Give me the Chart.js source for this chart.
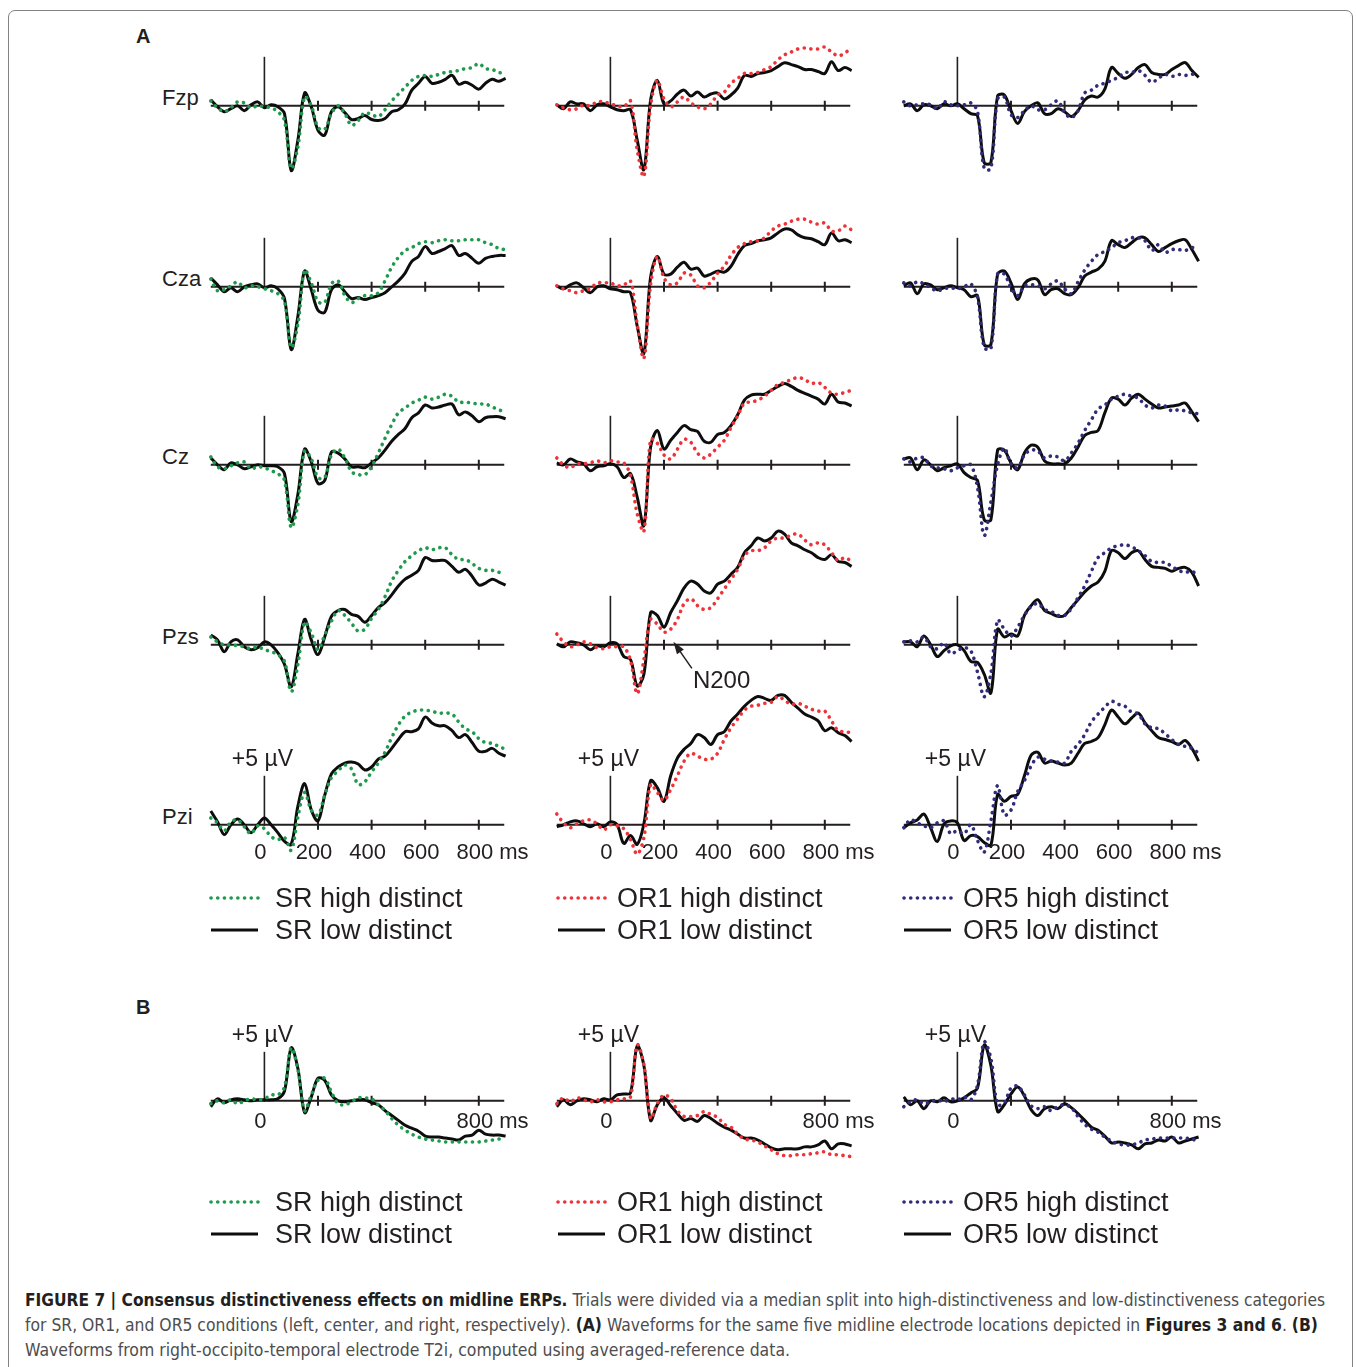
<!DOCTYPE html>
<html lang="en">
<head>
<meta charset="utf-8">
<title>Figure 7 - Consensus distinctiveness effects on midline ERPs</title>
<script src="https://cdn.jsdelivr.net/npm/chart.js@4.4.1/dist/chart.umd.min.js"></script>
<style>
  html, body { margin: 0; padding: 0; background: #fff; }
  body { position: relative; width: 1356px; height: 1367px; overflow: hidden;
         font-family: "Liberation Sans", Arial, Helvetica, sans-serif; color: #231f20; }
  .frame { position: absolute; left: 8px; top: 10px; width: 1343px; height: 1400px;
           border: 1px solid #808285; border-radius: 7px; }
  canvas.erp { position: absolute; }
  .panel-letter { position: absolute; left: 136px; font-weight: bold; font-size: 20px; line-height: 24px; }
  .electrode { position: absolute; left: 162px; font-size: 22px; line-height: 24px; }
  .legend-text { position: absolute; font-size: 27px; line-height: 30px; white-space: nowrap; }
  .legend-line { position: absolute; overflow: visible; }
  .caption { position: absolute; left: 25px; top: 1287px; font-size: 18px; line-height: 25px;
             font-family: "Liberation Sans Narrow", "DejaVu Sans Condensed", "Liberation Sans", sans-serif;
             color: #4d4d4f; white-space: nowrap; }
  .caption div { transform-origin: 0 50%; width: max-content; }
  .caption b { color: #231f20; }
</style>
</head>
<body>
<div class="frame"></div>
<div class="panel-letter" style="top:24px">A</div>
<div class="panel-letter" style="top:995px">B</div>
<div class="caption">
  <div><b>FIGURE 7 | Consensus distinctiveness effects on midline ERPs.</b> Trials were divided via a median split into high-distinctiveness and low-distinctiveness categories</div>
  <div>for SR, OR1, and OR5 conditions (left, center, and right, respectively). <b>(A)</b> Waveforms for the same five midline electrode locations depicted in <b>Figures 3 and 6</b>. <b>(B)</b></div>
  <div>Waveforms from right-occipito-temporal electrode T2i, computed using averaged-reference data.</div>
</div>
<script>
// Sample times (ms) shared by every waveform
const TIMES_MS = [-200,-175,-150,-125,-100,-75,-50,-25,0,25,50,75,100,125,150,175,200,225,250,275,300,
  325,350,375,400,425,450,475,500,525,550,575,600,625,650,675,700,725,750,775,800,825,850,875,900];

const CONDITIONS = ['SR', 'OR1', 'OR5'];
const ELECTRODES = ['Fzp', 'Cza', 'Cz', 'Pzs', 'Pzi'];
const TICK_MS = [200, 400, 600, 800];
const TICK_LABEL_MS_A = [0, 200, 400, 600, 800];
const TICK_LABELS_A = ['0', '200', '400', '600', '800'];
const TICK_LABEL_MS_B = [0, 800];
const TICK_LABELS_B = ['0', '800'];
const TIME_UNIT = 'ms';
const SCALE_BAR_UV = 5;
const SCALE_BAR_LABEL = '+5 µV';

// Amplitudes in µV, positive up (A: midline electrodes)
const srFzpHigh = [0.5,-0.2,-0.6,-0.2,0.4,0.3,-0.2,0.0,-0.1,-0.2,-0.6,-1.5,-6.4,-4.2,0.9,0.0,-2.2,-2.4,-0.8,0.0,-0.8,-2.0,-1.5,-0.7,-0.9,-1.1,-0.4,0.5,1.2,1.9,2.6,3.0,3.1,3.0,3.2,3.4,3.5,3.6,3.8,3.9,4.3,3.8,3.7,3.4,3.3];
const srFzpLow = [0.6,-0.1,-0.6,-0.3,0.0,-0.5,0.1,0.4,-0.2,0.1,-0.1,-0.8,-6.6,-3.5,1.3,-0.1,-2.5,-3.0,-0.6,-0.1,-0.7,-1.4,-1.3,-1.0,-1.4,-1.5,-1.3,-0.6,-0.4,0.2,1.6,2.3,3.0,2.3,2.4,2.7,3.1,2.2,2.4,2.1,1.7,2.3,2.7,2.5,2.8];
const srCzaHigh = [0.8,-0.4,-0.3,0.1,0.5,-0.1,0.1,0.0,-0.2,-0.4,-0.7,-1.5,-6.2,-3.8,1.7,0.4,-1.5,-1.6,0.3,0.6,-0.9,-1.6,-1.2,-0.9,-0.9,-0.6,0.6,2.0,3.0,3.7,4.0,4.4,4.6,4.5,4.7,4.8,4.7,4.7,4.8,4.8,4.8,4.5,4.3,3.9,3.8];
const srCzaLow = [0.9,0.2,-0.5,-0.1,-0.5,0.0,0.2,0.3,-0.1,0.1,-0.2,-1.2,-6.4,-3.0,1.6,-0.3,-2.4,-2.6,-0.3,0.2,-0.5,-1.2,-1.1,-1.3,-1.1,-0.9,-0.6,0.0,0.6,1.4,2.6,3.1,4.1,3.4,3.6,3.9,4.2,3.2,3.4,2.9,2.4,2.9,3.1,3.2,3.2];
const srCzHigh = [0.8,-0.2,-0.4,-0.1,0.2,0.3,-0.4,-0.2,-0.3,-0.6,-0.9,-1.6,-6.4,-4.0,1.4,0.6,-1.3,-1.3,1.0,1.6,0.7,-0.7,-1.0,-1.0,-0.2,1.2,2.7,4.1,5.3,5.8,6.3,6.6,6.9,6.7,6.9,7.2,7.0,6.4,6.4,6.3,6.2,6.2,5.9,5.6,5.4];
const srCzLow = [0.7,0.0,-0.5,0.2,0.0,-0.4,-0.2,0.0,-0.1,-0.1,-0.2,-0.9,-5.8,-3.0,1.6,0.3,-1.9,-1.6,1.3,1.2,0.6,-0.2,-0.2,-0.3,0.2,0.7,1.5,2.4,3.1,3.7,4.8,5.3,6.1,5.8,5.9,6.1,6.2,5.1,5.4,5.0,4.4,4.8,4.9,4.9,4.7];
const srPzsHigh = [0.8,0.3,0.0,0.0,-0.1,-0.2,-0.4,-0.2,-0.5,-0.7,-1.0,-1.7,-4.8,-2.0,2.3,1.2,-0.5,1.0,2.4,3.5,3.0,2.2,1.4,1.6,2.7,3.6,4.9,6.5,7.6,8.5,9.1,9.6,9.9,9.7,9.9,9.9,9.2,8.7,8.7,8.3,7.8,7.6,7.6,7.4,7.3];
const srPzsLow = [1.0,0.5,-0.7,0.3,0.5,-0.2,-0.5,-0.3,0.3,0.0,-0.8,-2.0,-4.3,-0.9,2.6,0.5,-1.0,0.8,2.9,3.5,3.6,3.1,2.9,2.3,3.0,3.8,4.3,5.1,6.0,6.7,7.1,7.6,8.9,8.6,8.6,8.6,8.0,7.4,7.7,7.0,6.1,6.3,6.7,6.4,6.1];
const srPziHigh = [0.7,0.2,-0.6,0.3,0.5,-0.2,-0.9,-0.1,-0.4,-1.2,-1.5,-1.3,-2.6,0.8,3.3,1.5,1.0,3.0,4.8,5.5,6.1,5.7,4.1,4.4,5.4,6.3,7.4,8.9,10.2,11.1,11.5,11.7,11.7,11.6,11.4,11.4,11.3,10.5,9.8,9.5,8.8,8.4,8.3,8.0,7.7];
const srPziLow = [1.4,0.3,-1.0,0.0,0.6,0.0,-0.8,0.0,0.7,0.0,-0.8,-1.7,-2.0,1.9,4.2,1.5,0.4,3.0,5.2,5.9,6.3,6.4,6.2,5.6,5.9,6.7,7.0,7.8,8.7,9.5,9.5,9.8,11.0,10.4,10.1,10.1,9.6,8.9,9.2,8.4,7.5,7.5,7.8,7.3,7.0];

const or1FzpHigh = [0.1,-0.2,-0.4,-0.3,0.1,0.0,0.4,0.4,0.2,0.0,-0.1,0.5,-4.5,-7.2,0.0,2.6,0.7,-0.1,0.4,0.9,0.3,-0.1,-0.3,0.2,1.1,1.4,2.3,2.8,3.3,3.3,3.4,3.7,4.0,4.7,5.2,5.5,5.8,5.9,5.8,5.8,6.0,5.5,5.1,5.4,5.9];
const or1FzpLow = [0.1,-0.3,0.4,0.2,0.2,-0.5,0.1,0.2,-0.1,-0.4,-0.5,-0.4,-3.5,-6.5,0.6,2.6,0.2,0.5,1.2,1.6,1.0,1.4,0.9,1.2,1.3,0.7,1.1,1.8,3.1,3.0,3.3,3.4,3.6,4.0,4.4,4.2,4.0,3.7,3.7,3.5,3.3,4.5,3.6,3.9,3.6];
const or1CzaHigh = [0.1,-0.2,-0.4,-0.6,-0.4,-0.2,0.4,0.4,0.4,0.1,0.2,0.6,-3.8,-7.3,0.2,3.1,0.9,0.2,0.4,1.4,1.2,0.1,-0.1,0.5,1.4,2.1,3.2,4.0,4.4,4.6,4.7,5.0,5.7,6.2,6.4,6.7,6.9,6.9,6.6,6.4,6.5,5.7,5.7,6.2,5.8];
const or1CzaLow = [0.1,-0.2,0.2,0.4,-0.1,-0.6,0.0,0.1,-0.2,-0.3,-0.5,-0.6,-4.0,-6.8,1.0,3.1,1.3,1.3,2.0,2.5,1.8,1.9,1.1,1.3,1.6,1.5,2.1,3.3,4.2,4.4,4.7,4.8,5.0,5.5,5.9,5.8,5.3,5.0,4.9,4.6,4.3,5.5,4.7,4.8,4.5];
const or1CzHigh = [0.7,0.0,-0.3,0.1,0.1,0.2,0.4,0.2,0.4,0.3,0.2,-1.1,-5.0,-6.8,2.6,2.2,1.0,0.6,1.6,2.6,2.3,1.2,0.7,1.1,1.8,2.5,3.8,5.0,6.3,6.4,6.6,7.0,7.6,8.2,8.4,8.7,8.9,8.7,8.3,8.4,7.9,7.3,7.2,7.4,7.6];
const or1CzLow = [0.2,0.0,0.6,0.3,0.1,-0.6,-0.2,-0.1,0.1,-0.2,-1.3,-0.9,-3.3,-6.2,1.8,3.5,1.6,2.5,3.3,4.0,3.6,3.4,2.4,2.3,3.1,3.3,4.0,5.1,6.6,7.1,7.2,7.2,7.6,8.0,8.3,8.0,7.6,7.3,7.0,6.7,6.2,7.2,6.4,6.3,6.0];
const or1PzsHigh = [1.1,0.3,-0.2,0.0,0.3,0.1,-0.3,-0.4,-0.2,-0.2,-0.2,-1.6,-5.0,-1.5,2.6,2.1,1.3,1.6,2.6,4.2,4.7,4.0,3.6,3.8,4.7,5.7,6.7,7.7,9.1,9.6,9.6,9.9,10.6,10.9,10.9,11.2,11.3,10.7,10.2,10.4,10.2,9.4,8.6,8.9,8.5];
const or1PzsLow = [0.1,-0.2,0.3,0.2,0.0,-0.5,-0.1,-0.2,0.2,0.1,-1.2,-1.5,-4.2,-3.0,3.3,3.0,1.8,3.3,4.5,5.8,6.5,6.2,5.5,5.3,6.2,6.5,7.2,7.9,9.4,10.1,10.9,10.6,10.9,11.6,11.3,10.4,10.1,9.7,9.4,8.9,8.7,9.2,8.5,8.4,8.0];
const or1PziHigh = [1.1,0.2,-0.3,0.1,0.4,0.5,0.1,-0.5,0.0,-0.1,-0.4,-1.5,-3.0,-1.3,4.1,3.3,2.5,3.6,5.0,6.5,7.3,7.0,6.7,6.7,7.3,8.7,9.9,10.8,11.7,12.1,12.2,12.4,12.5,13.1,12.7,12.3,12.4,12.1,11.8,11.6,11.6,10.6,9.6,9.5,9.4];
const or1PziLow = [-0.2,0.0,0.3,0.4,0.1,-0.2,0.1,-0.2,0.3,0.0,-1.9,-1.1,-2.0,0.1,4.5,3.8,2.4,5.0,6.8,7.7,8.3,9.2,8.9,8.2,9.2,9.5,10.6,11.3,12.1,12.7,13.1,12.9,12.7,13.2,13.2,12.5,11.9,11.3,11.0,10.6,9.6,9.9,9.4,9.1,8.5];

const or5FzpHigh = [0.4,0.0,0.1,0.2,0.1,-0.3,0.4,0.1,0.0,0.1,0.3,-0.6,-6.4,-6.4,0.7,0.9,-0.9,-1.2,-0.5,0.0,-0.4,-0.4,0.1,0.5,-0.7,-1.2,-0.5,1.3,1.6,2.1,2.3,2.6,2.9,3.4,3.4,3.6,3.1,2.4,2.8,3.2,3.0,3.2,3.1,3.2,3.5];
const or5FzpLow = [0.0,0.2,-0.5,0.1,0.0,-0.3,0.2,0.0,0.2,-0.3,-0.8,-1.0,-5.8,-5.8,1.0,1.1,-0.5,-1.8,-0.6,0.0,0.3,-0.8,-0.8,-0.3,-0.6,-1.1,-0.5,0.6,1.0,0.9,1.7,3.9,3.3,2.8,3.2,3.9,4.2,3.4,3.2,3.2,3.7,4.1,4.4,3.6,2.9];
const or5CzaHigh = [0.4,0.1,0.5,0.3,-0.1,-0.4,-0.2,-0.1,-0.2,0.0,0.3,-1.1,-6.2,-6.3,1.3,1.3,-0.1,-0.9,0.1,0.2,0.1,-0.2,0.3,0.6,-0.2,-0.7,0.5,1.7,2.6,3.3,3.6,4.0,4.5,4.7,5.0,5.0,4.7,3.7,4.3,3.5,3.8,3.8,3.7,4.0,4.0];
const or5CzaLow = [0.1,0.4,-0.7,0.3,0.2,-0.3,-0.1,0.1,-0.1,-0.3,-1.0,-0.9,-5.9,-5.9,1.3,1.6,0.4,-1.3,0.3,0.8,0.7,-0.8,-0.3,-0.2,-0.7,-0.8,-0.1,1.1,1.5,1.8,2.6,4.7,4.3,4.0,4.5,5.0,5.0,4.3,3.6,4.0,4.4,4.7,4.8,3.8,2.6];
const or5CzHigh = [0.6,0.3,0.7,0.7,-0.1,-0.3,-0.4,-0.6,-0.3,-0.1,0.0,-2.3,-7.2,-3.8,0.0,1.7,0.1,-0.3,1.0,1.5,1.4,0.7,0.9,0.8,0.4,1.2,2.2,3.5,4.6,5.7,6.1,6.7,7.0,7.2,7.0,6.8,6.1,5.8,6.1,6.0,5.5,5.6,5.5,5.3,5.2];
const or5CzLow = [0.6,0.7,-0.5,0.5,0.0,-0.6,-0.3,-0.1,0.1,-0.8,-1.3,-1.6,-5.6,-5.6,1.5,1.5,0.2,-0.5,1.2,2.0,1.8,0.4,0.1,0.1,0.1,0.7,1.8,3.0,3.3,3.5,5.3,6.8,6.7,6.1,6.8,7.2,6.7,6.2,5.8,5.9,6.0,6.1,6.3,5.4,4.4];
const or5PzsHigh = [0.3,0.4,0.3,0.8,-0.2,-0.4,0.2,-0.9,-0.6,-0.3,-0.6,-2.8,-5.3,-2.9,2.5,1.6,0.9,1.8,3.0,3.9,4.2,3.6,3.4,3.0,3.0,3.7,4.8,6.0,7.5,8.9,9.4,9.9,10.1,10.2,10.0,9.6,9.1,8.5,8.4,8.4,8.0,7.6,7.4,7.5,7.0];
const or5PzsLow = [0.3,0.3,-0.2,0.9,0.0,-1.2,-0.6,-0.1,0.0,-0.6,-1.7,-1.8,-3.0,-4.9,1.6,0.8,1.1,0.9,3.0,4.0,4.6,3.5,3.2,2.9,3.0,3.8,4.6,5.4,6.0,6.4,7.5,9.6,9.4,8.8,9.4,9.6,8.7,8.0,7.9,7.8,7.5,7.8,7.9,7.4,6.0];
const or5PziHigh = [-0.3,0.5,0.2,-0.1,-0.3,0.2,0.4,-0.9,-0.6,-0.9,0.0,-1.6,-2.8,0.4,4.0,1.0,1.5,3.4,4.5,6.0,6.9,6.7,6.5,6.4,6.3,7.5,8.2,9.2,10.5,11.3,12.0,12.6,12.3,12.1,11.5,11.3,10.3,9.9,9.8,9.3,8.7,8.2,8.0,7.8,7.3];
const or5PziLow = [-0.3,0.2,0.5,1.1,-0.3,-1.7,0.1,0.4,0.2,-1.6,-1.1,-1.2,-1.8,-2.1,3.1,2.4,2.9,3.1,5.0,7.1,7.4,6.3,6.5,6.3,6.1,6.3,7.3,8.3,8.5,8.9,10.2,11.7,11.0,10.3,10.9,11.4,10.4,9.6,8.9,8.7,8.5,8.2,8.6,7.8,6.5];

// B: right-occipito-temporal electrode T2i, averaged reference
const srT2iHigh = [-0.3,0.0,-0.2,0.1,-0.3,0.0,0.2,0.1,0.2,0.6,0.6,1.4,5.4,3.2,-1.0,0.6,2.1,2.3,0.9,-0.3,-0.4,-0.1,0.3,0.3,0.2,-0.4,-1.0,-1.8,-2.5,-3.0,-3.4,-3.7,-3.9,-4.0,-4.1,-4.2,-4.2,-4.2,-4.2,-4.2,-4.2,-4.1,-4.0,-3.9,-3.8];
const srT2iLow = [-0.6,0.2,-0.2,0.1,0.2,0.1,0.0,0.1,0.1,0.1,0.2,1.0,5.4,3.3,-1.2,0.4,2.3,2.1,0.6,0.0,-0.1,0.0,0.1,0.1,-0.2,-0.4,-1.0,-1.5,-2.0,-2.5,-2.8,-3.1,-3.6,-3.7,-3.7,-3.8,-3.9,-4.0,-3.6,-3.5,-3.0,-3.4,-3.5,-3.5,-3.6];
const or1T2iHigh = [-0.3,0.3,-0.1,0.3,0.1,-0.1,0.1,-0.1,-0.1,0.1,0.2,0.4,5.7,3.7,-1.8,-0.3,0.6,0.2,-1.0,-1.6,-1.6,-1.5,-1.1,-1.4,-1.7,-2.4,-2.7,-3.4,-3.9,-4.0,-4.2,-4.6,-5.0,-5.4,-5.6,-5.6,-5.5,-5.5,-5.4,-5.3,-5.2,-5.5,-5.5,-5.6,-5.7];
const or1T2iLow = [-0.6,0.1,-0.4,0.0,0.2,0.1,-0.1,0.2,0.1,0.6,0.7,0.8,5.6,3.6,-2.0,-0.4,0.3,-0.5,-1.3,-2.0,-1.8,-2.1,-1.5,-1.8,-2.3,-2.7,-3.0,-3.4,-3.8,-3.8,-4.0,-4.4,-4.8,-5.0,-4.9,-4.9,-4.9,-4.7,-4.7,-4.5,-4.1,-4.9,-4.4,-4.4,-4.6];
const or5T2iHigh = [-0.6,-0.1,0.1,-0.3,-0.1,0.1,-0.1,0.2,0.1,0.4,0.1,1.6,6.0,4.3,-0.4,-0.2,1.3,1.5,0.6,-0.5,-0.8,-0.6,-1.0,-0.6,-0.4,-0.7,-1.6,-2.4,-2.9,-3.2,-3.7,-4.1,-4.4,-4.5,-4.5,-4.3,-4.0,-3.9,-3.8,-3.8,-3.8,-3.8,-3.8,-3.9,-4.2];
const or5T2iLow = [0.4,-0.4,0.0,-0.8,0.0,-0.1,0.3,-0.1,0.0,0.3,0.8,1.3,5.7,3.6,-1.1,-0.4,0.7,1.4,0.5,-0.9,-1.5,-0.8,-0.6,-0.8,-0.3,-0.7,-1.3,-2.0,-2.7,-3.0,-3.6,-4.3,-4.2,-4.3,-4.5,-4.9,-4.4,-4.3,-4.0,-4.1,-3.7,-4.3,-4.1,-3.9,-3.7];

// N200 call-out on the OR1 / Pzs panel (ms, µV)
const N200_LABEL = 'N200';
const N200_TIP = [235, 0.3];
const N200_TAIL = [304, -2.4];
const N200_TEXT_AT = [415, -3.75];

// ---- layout / style (kept apart from the data) ----
const PX_PER_MS = 0.268;
const PX_PER_UV = 9.8;
const X_MIN_MS = -300;
const Y_MIN_UV = -9;
const CANVAS_W = 375;
const CANVAS_H = 230;
const X_MAX_MS = X_MIN_MS + CANVAS_W / PX_PER_MS;
const Y_MAX_UV = Y_MIN_UV + CANVAS_H / PX_PER_UV;
const AXIS_START_MS = -200;
const AXIS_END_MS = 895;
const COLUMN_ZERO_X = [264, 610.3, 957.3];
const ROW_BASELINE_Y = [105.5, 286.3, 464.5, 644.5, 824.5];
const B_BASELINE_Y = 1100.7;
const CONDITION_COLORS = ['#1f9a4d', '#ee3338', '#302c7a'];
const INK = '#231f20';
const TICK_FONT = '22px "Liberation Sans", Arial, sans-serif';
const LABEL_FONT = '23px "Liberation Sans", Arial, sans-serif';
const N200_FONT = '24px "Liberation Sans", Arial, sans-serif';
const LEGEND_LINE_X = [210, 557, 903];
const LEGEND_TEXT_X = [275, 617, 963];
const LEGEND_Y_A = 898;
const LEGEND_Y_B = 1202;
const LEGEND_ROW_GAP = 32;
const CAPTION_LINE_W = [1300, 1293, 765];

/**
 * Axis plugin: zero line with 200 ms ticks, +5 µV bar at onset, tick labels, call-out
 */
const erpAxes = {
    id: 'erpAxes',
    beforeDatasetsDraw(chart, args, opts) {
        const { ctx, scales: { x, y } } = chart;
        const y0 = y.getPixelForValue(0);
        const x0 = x.getPixelForValue(0);
        ctx.save();
        ctx.strokeStyle = INK;
        ctx.lineCap = 'butt';
        ctx.lineWidth = 2;
        ctx.beginPath();
        ctx.moveTo(x.getPixelForValue(AXIS_START_MS), y0);
        ctx.lineTo(x.getPixelForValue(AXIS_END_MS), y0);
        TICK_MS.forEach(t => {
            const px = x.getPixelForValue(t);
            ctx.moveTo(px, y0 - 5);
            ctx.lineTo(px, y0 + 5);
        });
        ctx.stroke();

        // scale bar at stimulus onset
        ctx.lineWidth = 1.6;
        ctx.beginPath();
        ctx.moveTo(x0, y0 + 1);
        ctx.lineTo(x0, y.getPixelForValue(SCALE_BAR_UV));
        ctx.stroke();
        ctx.restore();
    },
    afterDatasetsDraw(chart, args, opts) {
        const { ctx, scales: { x, y } } = chart;
        const y0 = y.getPixelForValue(0);
        ctx.save();
        ctx.fillStyle = INK;
        ctx.textBaseline = 'middle';

        if (opts.showScaleLabel) {
            ctx.font = LABEL_FONT;
            ctx.textAlign = 'center';
            ctx.fillText(SCALE_BAR_LABEL, x.getPixelForValue(0) - 2, y.getPixelForValue(SCALE_BAR_UV) - 16);
        }

        if (opts.tickMs) {
            ctx.font = TICK_FONT;
            opts.tickMs.forEach((t, i) => {
                const cx = x.getPixelForValue(t) - 4;
                const txt = opts.tickText[i];
                ctx.textAlign = 'center';
                ctx.fillText(txt, cx, y0 + opts.labelGap);
                if (i === opts.tickMs.length - 1) {
                    ctx.textAlign = 'left';
                    ctx.fillText(' ' + TIME_UNIT, cx + ctx.measureText(txt).width / 2, y0 + opts.labelGap);
                }
            });
        }

        if (opts.callout) {
            const c = opts.callout;
            const tx = x.getPixelForValue(c.tip[0]), ty = y.getPixelForValue(c.tip[1]);
            const sx = x.getPixelForValue(c.tail[0]), sy = y.getPixelForValue(c.tail[1]);
            const ang = Math.atan2(ty - sy, tx - sx);
            ctx.strokeStyle = INK;
            ctx.lineWidth = 1.5;
            ctx.beginPath();
            ctx.moveTo(sx, sy);
            ctx.lineTo(tx - 8 * Math.cos(ang), ty - 8 * Math.sin(ang));
            ctx.stroke();
            ctx.beginPath();
            ctx.moveTo(tx, ty);
            ctx.lineTo(tx - 13 * Math.cos(ang - 0.33), ty - 13 * Math.sin(ang - 0.33));
            ctx.lineTo(tx - 13 * Math.cos(ang + 0.33), ty - 13 * Math.sin(ang + 0.33));
            ctx.closePath();
            ctx.fill();
            ctx.font = N200_FONT;
            ctx.textAlign = 'center';
            ctx.fillText(c.text, x.getPixelForValue(c.textAt[0]), y.getPixelForValue(c.textAt[1]));
        }
        ctx.restore();
    }
};

function toPoints(values) {
    return TIMES_MS.map((t, i) => ({ x: t, y: values[i] }));
}

/**
 * Build one waveform panel (dotted = high distinct, solid black = low distinct)
 */
function makePanel(colIndex, baselineY, highValues, lowValues, axisOpts) {
    const canvas = document.createElement('canvas');
    canvas.className = 'erp';
    canvas.width = CANVAS_W;
    canvas.height = CANVAS_H;
    canvas.style.left = (COLUMN_ZERO_X[colIndex] + X_MIN_MS * PX_PER_MS) + 'px';
    canvas.style.top = (baselineY - Y_MAX_UV * PX_PER_UV) + 'px';
    document.body.appendChild(canvas);

    const color = CONDITION_COLORS[colIndex];
    const cond = CONDITIONS[colIndex];

    return new Chart(canvas.getContext('2d'), {
        type: 'line',
        data: {
            datasets: [{
                label: cond + ' high distinct',
                data: toPoints(highValues),
                borderColor: color,
                borderWidth: 3.6,
                borderDash: [0.1, 6.6],
                borderCapStyle: 'round',
                pointRadius: 0,
                tension: 0.35,
                fill: false
            }, {
                label: cond + ' low distinct',
                data: toPoints(lowValues),
                borderColor: '#0d0d0d',
                borderWidth: 3,
                borderJoinStyle: 'round',
                pointRadius: 0,
                tension: 0.35,
                fill: false
            }]
        },
        options: {
            responsive: false,
            animation: false,
            devicePixelRatio: 1,
            events: [],
            layout: { padding: 0 },
            scales: {
                x: { type: 'linear', min: X_MIN_MS, max: X_MAX_MS, display: false },
                y: { min: Y_MIN_UV, max: Y_MAX_UV, display: false }
            },
            plugins: {
                legend: { display: false },
                tooltip: { enabled: false },
                erpAxes: axisOpts
            }
        },
        plugins: [erpAxes]
    });
}

function addLegend(colIndex, centerY) {
    const color = CONDITION_COLORS[colIndex];
    const lx = LEGEND_LINE_X[colIndex];
    const cond = CONDITIONS[colIndex];
    const rows = [
        { cy: centerY, text: cond + ' high distinct', stroke: color, width: 3.6, dash: '0.1 6.6', cap: 'round' },
        { cy: centerY + LEGEND_ROW_GAP, text: cond + ' low distinct', stroke: '#0d0d0d', width: 3, dash: 'none', cap: 'butt' }
    ];
    rows.forEach(r => {
        const svg = document.createElementNS('http://www.w3.org/2000/svg', 'svg');
        svg.setAttribute('class', 'legend-line');
        svg.setAttribute('width', '60');
        svg.setAttribute('height', '10');
        svg.style.left = lx + 'px';
        svg.style.top = (r.cy - 5) + 'px';
        svg.innerHTML = `<line x1="1" y1="5" x2="48" y2="5" stroke="${r.stroke}" stroke-width="${r.width}"
            stroke-dasharray="${r.dash}" stroke-linecap="${r.cap}"/>`;
        document.body.appendChild(svg);

        const label = document.createElement('div');
        label.className = 'legend-text';
        label.style.left = LEGEND_TEXT_X[colIndex] + 'px';
        label.style.top = (r.cy - 15) + 'px';
        label.textContent = r.text;
        document.body.appendChild(label);
    });
}

// Panel table built from the named arrays
const PANEL_SERIES = [
    [[srFzpHigh, srFzpLow], [srCzaHigh, srCzaLow], [srCzHigh, srCzLow], [srPzsHigh, srPzsLow], [srPziHigh, srPziLow]],
    [[or1FzpHigh, or1FzpLow], [or1CzaHigh, or1CzaLow], [or1CzHigh, or1CzLow], [or1PzsHigh, or1PzsLow], [or1PziHigh, or1PziLow]],
    [[or5FzpHigh, or5FzpLow], [or5CzaHigh, or5CzaLow], [or5CzHigh, or5CzLow], [or5PzsHigh, or5PzsLow], [or5PziHigh, or5PziLow]]
];
const T2I_SERIES = [[srT2iHigh, srT2iLow], [or1T2iHigh, or1T2iLow], [or5T2iHigh, or5T2iLow]];

// electrode labels
ELECTRODES.forEach((name, r) => {
    const el = document.createElement('div');
    el.className = 'electrode';
    el.style.top = (ROW_BASELINE_Y[r] - 7.5 - 12) + 'px';
    el.textContent = name;
    document.body.appendChild(el);
});

CONDITIONS.forEach((cond, c) => {
    ELECTRODES.forEach((name, r) => {
        const last = r === ELECTRODES.length - 1;
        const opts = {
            showScaleLabel: last,
            tickMs: last ? TICK_LABEL_MS_A : null,
            tickText: TICK_LABELS_A,
            labelGap: 28
        };
        if (cond === 'OR1' && name === 'Pzs') {
            opts.callout = { tip: N200_TIP, tail: N200_TAIL, text: N200_LABEL, textAt: N200_TEXT_AT };
        }
        makePanel(c, ROW_BASELINE_Y[r], PANEL_SERIES[c][r][0], PANEL_SERIES[c][r][1], opts);
    });
    makePanel(c, B_BASELINE_Y, T2I_SERIES[c][0], T2I_SERIES[c][1], {
        showScaleLabel: true,
        tickMs: TICK_LABEL_MS_B,
        tickText: TICK_LABELS_B,
        labelGap: 21
    });
    addLegend(c, LEGEND_Y_A);
    addLegend(c, LEGEND_Y_B);
});

// fit each caption line to the original line length
document.querySelectorAll('.caption div').forEach((el, i) => {
    const w = el.getBoundingClientRect().width;
    el.style.transform = `scaleX(${CAPTION_LINE_W[i] / w})`;
});
</script>
</body>
</html>
